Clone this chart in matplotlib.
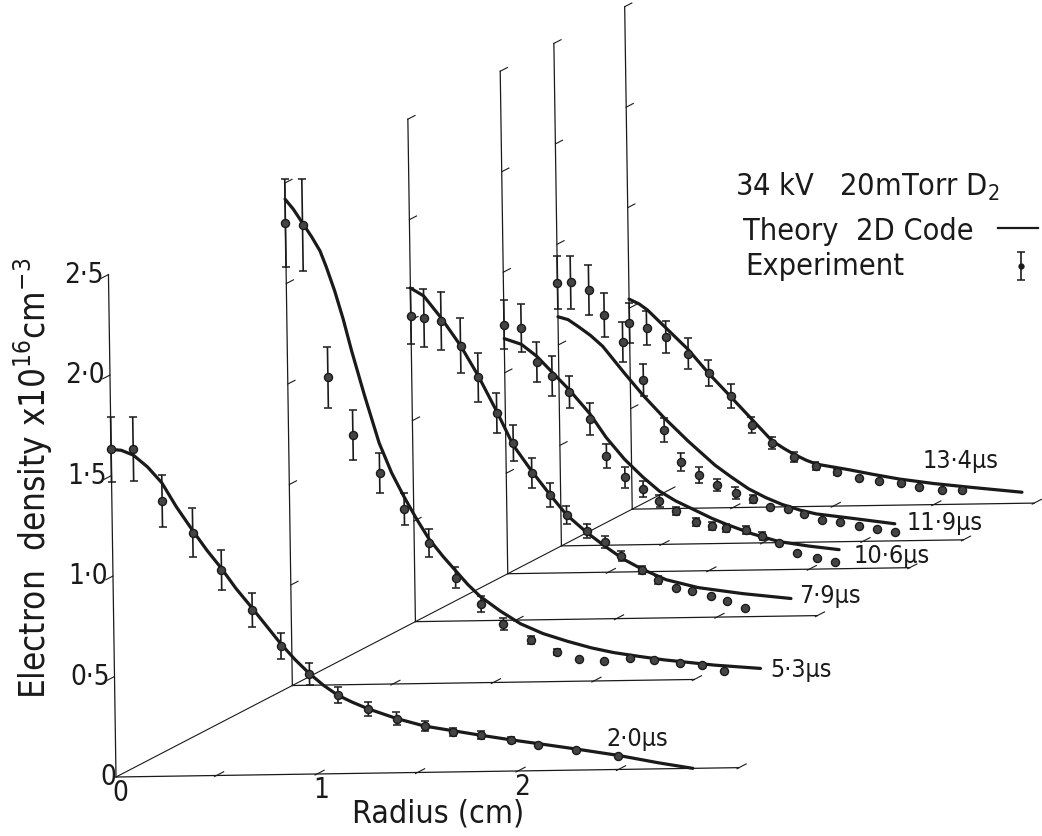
import matplotlib.pyplot as plt
from matplotlib.transforms import Affine2D

# time of each profile and its position along the depth axis (cm units)
times = ["2·0", "5·3", "7·9", "10·6", "11·9", "13·4"]
depth = [0.0, 0.884, 1.501, 1.964, 2.233, 2.588]
base_len = [3.1, 2.0, 2.0, 2.0, 2.0, 2.0]

# experiment: radius (cm), density (x1e16 cm^-3), error bar half height
r_20 = [0.0, 0.11, 0.25, 0.40, 0.54, 0.69, 0.83, 0.97, 1.11, 1.26, 1.40, 1.54, 1.68, 1.82, 1.97, 2.10, 2.29, 2.50]
n_20 = [1.63, 1.63, 1.37, 1.21, 1.02, 0.82, 0.64, 0.50, 0.39, 0.32, 0.27, 0.23, 0.20, 0.18, 0.155, 0.13, 0.10, 0.067]
e_20 = [0.16, 0.16, 0.13, 0.12, 0.10, 0.085, 0.065, 0.055, 0.04, 0.035, 0.03, 0.025, 0.02, 0.02, 0.015, 0.0, 0.0, 0.0]

r_53 = [0.0, 0.085, 0.20, 0.32, 0.45, 0.57, 0.69, 0.82, 0.945, 1.055, 1.19, 1.32, 1.43, 1.55, 1.68, 1.80, 1.93, 2.04, 2.15]
n_53 = [2.30, 2.29, 1.53, 1.24, 1.05, 0.87, 0.70, 0.525, 0.39, 0.29, 0.21, 0.145, 0.11, 0.10, 0.11, 0.10, 0.085, 0.07, 0.04]
e_53 = [0.22, 0.23, 0.15, 0.125, 0.10, 0.08, 0.07, 0.05, 0.04, 0.03, 0.02, 0.015, 0.0, 0.0, 0.0, 0.0, 0.0, 0.0, 0.0]

r_79 = [0.0, 0.065, 0.15, 0.245, 0.33, 0.42, 0.50, 0.59, 0.68, 0.76, 0.86, 0.95, 1.03, 1.13, 1.21, 1.30, 1.38, 1.47, 1.55, 1.64]
n_79 = [1.52, 1.51, 1.495, 1.37, 1.21, 1.03, 0.88, 0.73, 0.62, 0.52, 0.44, 0.38, 0.31, 0.24, 0.19, 0.15, 0.13, 0.107, 0.08, 0.045]
e_79 = [0.14, 0.145, 0.145, 0.135, 0.12, 0.10, 0.09, 0.075, 0.06, 0.045, 0.035, 0.03, 0.025, 0.02, 0.02, 0.0, 0.0, 0.0, 0.0, 0.0]

r_106 = [0.0, 0.085, 0.16, 0.235, 0.32, 0.42, 0.50, 0.59, 0.68, 0.76, 0.84, 0.94, 1.02, 1.09, 1.19, 1.27, 1.35, 1.44, 1.54, 1.63]
n_106 = [1.24, 1.22, 1.05, 0.98, 0.90, 0.765, 0.58, 0.47, 0.41, 0.35, 0.30, 0.245, 0.22, 0.21, 0.20, 0.17, 0.134, 0.083, 0.057, 0.035]
e_106 = [0.12, 0.12, 0.10, 0.10, 0.08, 0.08, 0.06, 0.05, 0.04, 0.03, 0.02, 0.02, 0.02, 0.02, 0.02, 0.02, 0.0, 0.0, 0.0, 0.0]

r_119 = [0.0, 0.065, 0.155, 0.23, 0.32, 0.42, 0.52, 0.60, 0.69, 0.78, 0.87, 0.955, 1.04, 1.13, 1.21, 1.30, 1.39, 1.48, 1.57, 1.66]
n_119 = [1.31, 1.31, 1.27, 1.145, 1.01, 0.82, 0.57, 0.41, 0.34, 0.29, 0.25, 0.22, 0.18, 0.167, 0.14, 0.11, 0.10, 0.077, 0.061, 0.045]
e_119 = [0.13, 0.13, 0.125, 0.11, 0.10, 0.08, 0.06, 0.045, 0.04, 0.03, 0.03, 0.02, 0.0, 0.0, 0.0, 0.0, 0.0, 0.0, 0.0, 0.0]

r_134 = [0.0, 0.085, 0.18, 0.29, 0.39, 0.50, 0.60, 0.70, 0.81, 0.915, 1.02, 1.13, 1.23, 1.34, 1.43, 1.54, 1.64]
n_134 = [0.925, 0.90, 0.855, 0.77, 0.67, 0.555, 0.41, 0.32, 0.245, 0.20, 0.17, 0.14, 0.12, 0.11, 0.088, 0.07, 0.07]
e_134 = [0.10, 0.085, 0.08, 0.075, 0.065, 0.06, 0.04, 0.03, 0.025, 0.02, 0.015, 0.0, 0.0, 0.0, 0.0, 0.0, 0.0]

# theory (2D code) curves
tr_20 = [0.0, 0.05, 0.11, 0.18, 0.25, 0.32, 0.40, 0.47, 0.54, 0.61, 0.69, 0.76, 0.83, 0.90, 0.97, 1.04, 1.11, 1.18, 1.26, 1.33, 1.40,
         1.54, 1.68, 1.82, 1.97, 2.10, 2.29, 2.50, 2.70, 2.87]
tn_20 = [1.63, 1.625, 1.60, 1.54, 1.46, 1.34, 1.22, 1.12, 1.03, 0.93, 0.83, 0.74, 0.65, 0.57, 0.50, 0.44, 0.39, 0.355, 0.32, 0.295, 0.27,
         0.23, 0.205, 0.18, 0.155, 0.135, 0.105, 0.07, 0.03, 0.0]

tr_53 = [0.0, 0.04, 0.085, 0.13, 0.17, 0.20, 0.24, 0.28, 0.32, 0.38, 0.45, 0.51, 0.57, 0.63, 0.69, 0.76, 0.82, 0.88, 0.94, 1.04, 1.14,
         1.25, 1.37, 1.49, 1.60, 1.72, 1.85, 2.10, 2.33]
tn_53 = [2.42, 2.37, 2.30, 2.23, 2.16, 2.08, 1.96, 1.82, 1.66, 1.44, 1.20, 1.05, 0.93, 0.82, 0.72, 0.63, 0.56, 0.49, 0.43, 0.355, 0.29,
         0.24, 0.20, 0.165, 0.14, 0.12, 0.10, 0.07, 0.05]

tr_79 = [0.0, 0.065, 0.15, 0.245, 0.33, 0.42, 0.50, 0.59, 0.68, 0.76, 0.86, 0.95, 1.04, 1.13, 1.25, 1.41, 1.63, 1.87]
tn_79 = [1.66, 1.62, 1.51, 1.37, 1.22, 1.04, 0.87, 0.74, 0.62, 0.52, 0.43, 0.36, 0.295, 0.245, 0.19, 0.148, 0.115, 0.087]

tr_106 = [0.0, 0.085, 0.16, 0.235, 0.32, 0.42, 0.50, 0.59, 0.68, 0.76, 0.84, 0.94, 1.02, 1.09, 1.22, 1.35, 1.50, 1.65]
tn_106 = [1.17, 1.14, 1.08, 1.00, 0.91, 0.79, 0.67, 0.56, 0.47, 0.40, 0.35, 0.30, 0.26, 0.23, 0.18, 0.14, 0.115, 0.095]

tr_119 = [0.0, 0.05, 0.10, 0.16, 0.22, 0.33, 0.42, 0.52, 0.64, 0.77, 0.85, 0.935, 1.02, 1.10, 1.19, 1.27, 1.43, 1.66]
tn_119 = [1.14, 1.125, 1.09, 1.045, 0.99, 0.85, 0.74, 0.63, 0.51, 0.39, 0.33, 0.27, 0.225, 0.19, 0.16, 0.14, 0.118, 0.085]

tr_134 = [0.0, 0.05, 0.09, 0.18, 0.29, 0.39, 0.50, 0.60, 0.70, 0.76, 0.81, 0.87, 0.92, 1.00, 1.08, 1.20, 1.33, 1.50, 1.67, 1.94]
tn_134 = [1.045, 1.02, 0.99, 0.90, 0.79, 0.67, 0.55, 0.44, 0.33, 0.29, 0.26, 0.23, 0.21, 0.195, 0.18, 0.155, 0.13, 0.105, 0.085, 0.055]

# time label positions, relative to each frame
lab_r = [2.44, 2.38, 1.91, 1.72, 1.72, 1.45]
lab_n = [0.15, 0.04, 0.10, 0.064, 0.089, 0.22]

exp_r = [r_20, r_53, r_79, r_106, r_119, r_134]
exp_n = [n_20, n_53, n_79, n_106, n_119, n_134]
exp_e = [e_20, e_53, e_79, e_106, e_119, e_134]
th_r = [tr_20, tr_53, tr_79, tr_106, tr_119, tr_134]
th_n = [tn_20, tn_53, tn_79, tn_106, tn_119, tn_134]

plt.rcParams['font.family'] = ['DejaVu Sans Condensed', 'DejaVu Sans']
plt.rcParams['font.stretch'] = 'condensed'
plt.rcParams['mathtext.fontset'] = 'dejavusans'

ink = '#1a1a1a'
W, H, S = 1042, 836, 201.0  # pixel size, pixels per cm / per unit
X0, Y0 = 116, 777           # origin of the front frame (pixels from top-left)

fig = plt.figure(figsize=(W / 100, H / 100), dpi=100)
ax = fig.add_axes([0, 0, 1, 1])
ax.set_xlim(-X0 / S, (W - X0) / S)
ax.set_ylim(-(H - Y0) / S, Y0 / S)
ax.axis('off')

# the scanned page is slightly rotated
T = Affine2D().rotate_deg(0.86) + ax.transData
slope = 0.5
tx, ty = 0.036, 0.018

# depth axis
ax.plot([0, 2.802], [0, 2.802 * slope], transform=T, color=ink, lw=0.8)

for i in range(len(times)):
    ox = depth[i]
    oy = ox * slope
    L = base_len[i]
    ax.plot([ox, ox], [oy, oy + 2.5], transform=T, color=ink, lw=0.9)
    ax.plot([ox, ox + L], [oy, oy], transform=T, color=ink, lw=0.9)
    for v in [0.5, 1.0, 1.5, 2.0, 2.5]:
        if i == 0:
            ax.plot([ox - tx, ox], [oy + v - ty, oy + v], transform=T, color=ink, lw=0.8)
        else:
            ax.plot([ox, ox + tx], [oy + v, oy + v + ty], transform=T, color=ink, lw=0.8)
    ticks = [k * 0.5 for k in range(1, int(L / 0.5) + 1) if k * 0.5 < L - 0.1] + [L]
    for t in ticks:
        ax.plot([ox + t - 0.01, ox + t + tx], [oy - 0.005, oy + ty], transform=T, color=ink, lw=0.8)

    # theory curve
    ax.plot([ox + r for r in th_r[i]], [oy + n for n in th_n[i]], transform=T,
            color=ink, lw=2.3, solid_capstyle='round', solid_joinstyle='round', zorder=4)

    # experiment points
    xs = [ox + r for r in exp_r[i]]
    ys = [oy + n for n in exp_n[i]]
    xe = [x for x, e in zip(xs, exp_e[i]) if e > 0]
    ye = [y for y, e in zip(ys, exp_e[i]) if e > 0]
    ee = [e for e in exp_e[i] if e > 0]
    ax.errorbar(xe, ye, yerr=ee, fmt='none', ecolor=ink, elinewidth=1.2,
                capsize=2.8, capthick=1.1, transform=T, zorder=5)
    ax.plot(xs, ys, 'o', ms=5.8, mfc='#444444', mec=ink, mew=1.0, transform=T, zorder=6)

    ax.text(ox + lab_r[i], oy + lab_n[i], times[i] + "μs", transform=T,
            fontsize=18, color=ink, ha='left', va='center')

# tick labels of the front frame
for v in [0, 0.5, 1.0, 1.5, 2.0, 2.5]:
    s = "0" if v == 0 else f"{v:.1f}".replace('.', '·')
    ax.text(-0.025 if v > 0 else -0.0, v, s, transform=T, fontsize=20, color=ink,
            ha='right', va='center')
for r in [0, 1, 2]:
    ax.text(r + 0.02, -0.08, str(r), transform=T, fontsize=20, color=ink,
            ha='center', va='center')

ax.text(438 / W, 1 - 814 / H, "Radius (cm)", transform=ax.transAxes,
        fontsize=23, color=ink, ha='center', va='center')
ax.text(33 / W, 1 - 478 / H, r"Electron  density x10$^{16}$cm$^{-3}$",
        transform=ax.transAxes, fontsize=25, color=ink, ha='center',
        va='center', rotation=90)

# key
ax.text(735 / W, 1 - 196 / H, "34 kV   20mTorr D$_2$", transform=ax.transAxes,
        fontsize=22, color=ink, ha='left', va='baseline')
ax.text(743 / W, 1 - 240 / H, "Theory  2D Code", transform=ax.transAxes,
        fontsize=22, color=ink, ha='left', va='baseline')
ax.text(745 / W, 1 - 275 / H, "Experiment", transform=ax.transAxes,
        fontsize=22, color=ink, ha='left', va='baseline')
ax.plot([998 / W, 1038 / W], [1 - 228 / H, 1 - 228 / H], transform=ax.transAxes,
        color=ink, lw=1.6)
ax.errorbar([1021 / W], [1 - 266 / H], yerr=[14 / H], fmt='o', ms=3.5, color=ink,
            elinewidth=1.2, capsize=3, capthick=1.1, transform=ax.transAxes)

fig.savefig('out.png', dpi=100, facecolor='white')
